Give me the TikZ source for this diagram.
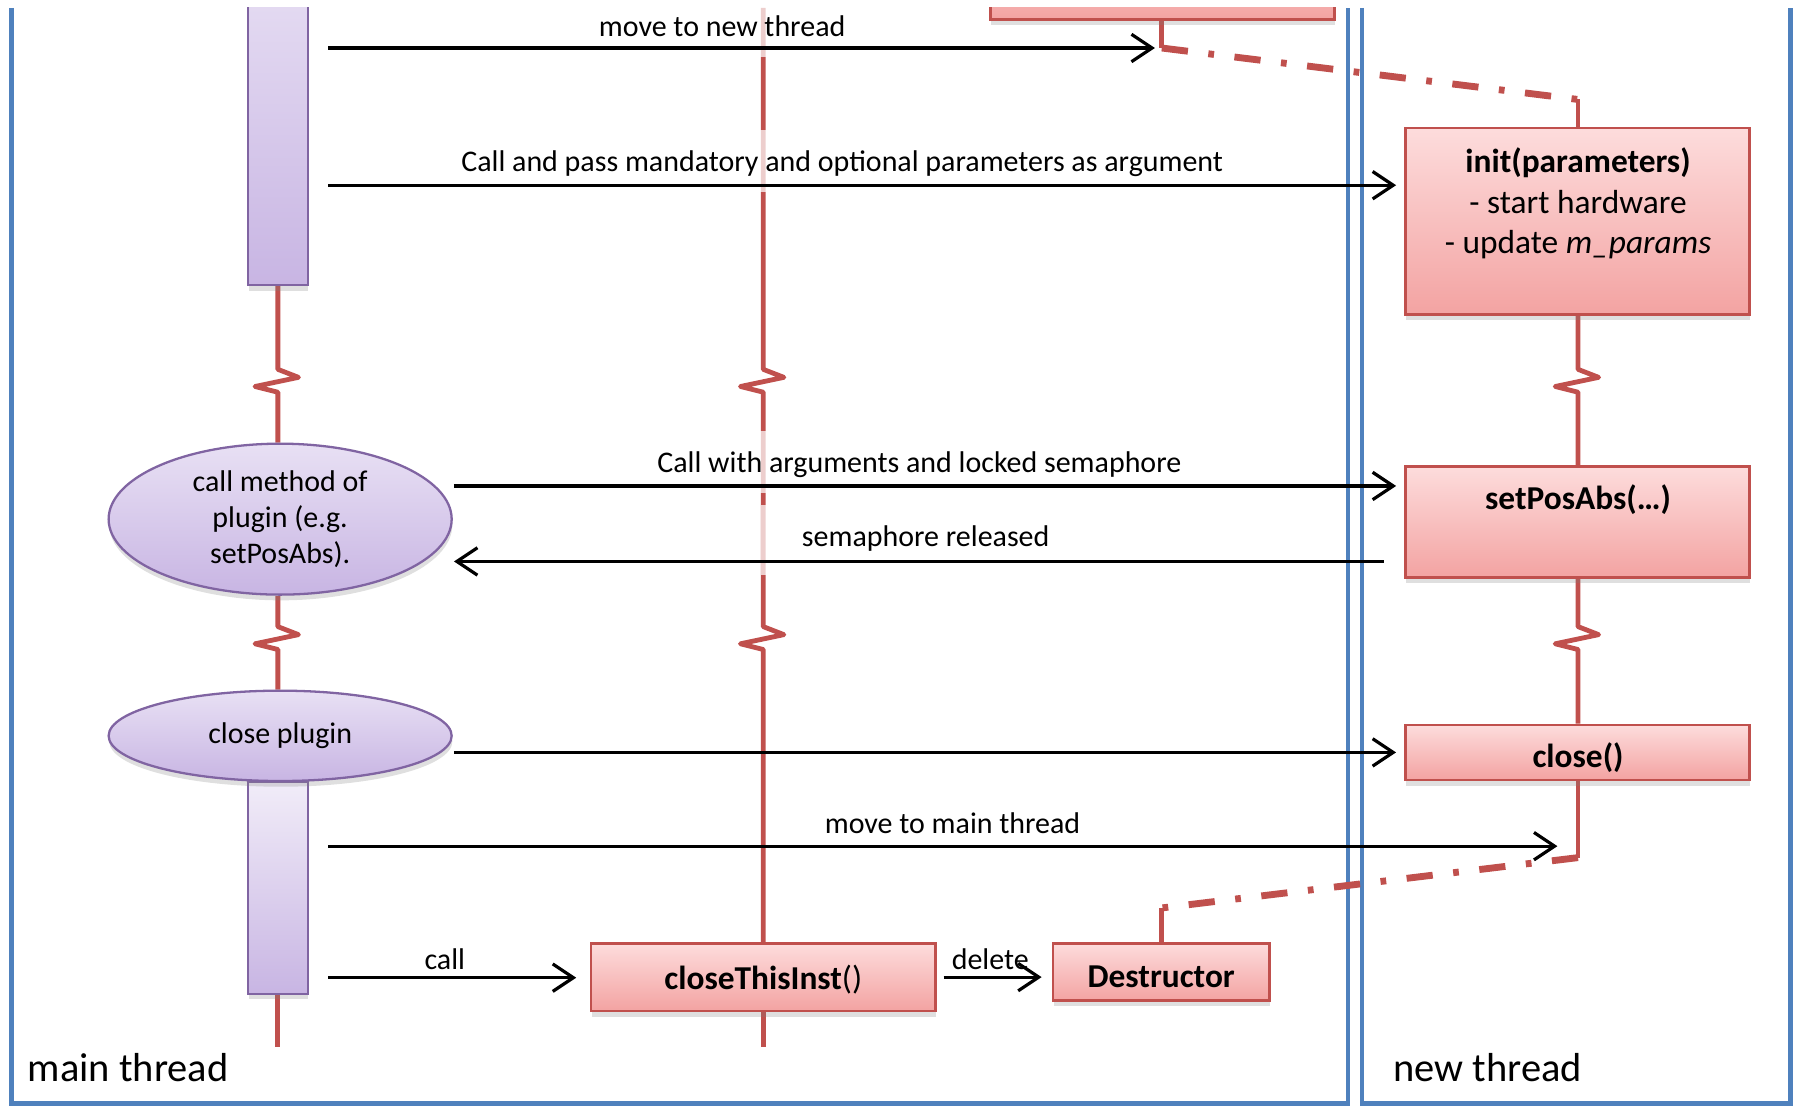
\documentclass[tikz,border=0pt]{standalone}
\usepackage{fontspec}
\setmainfont{Carlito}
\usetikzlibrary{arrows.meta,shadows,shapes.geometric}
\pgfdeclarelayer{back}
\pgfsetlayers{back,main}

\definecolor{lifered}{HTML}{C0504D}
\definecolor{laneblue}{HTML}{4F81BD}
\definecolor{pinktop}{HTML}{FDDCDC}
\definecolor{pinkbot}{HTML}{F3A3A2}
\definecolor{violettop}{HTML}{E8E0F4}
\definecolor{violetbot}{HTML}{C8B5E3}
\definecolor{violetedge}{HTML}{8064A2}

\newcommand\lblsize{\fontsize{13.1pt}{15.75pt}\selectfont}
\newcommand\boxsize{\fontsize{14.6pt}{17.75pt}\selectfont}
\newcommand\lanesize{\fontsize{17.7pt}{21pt}\selectfont}

\tikzset{
  lane/.style={draw=laneblue, line width=2pt},
  life/.style={draw=lifered, line width=2.1pt, line join=round},
  handover/.style={draw=lifered, line width=3pt,
    dash pattern=on 11.5pt off 9pt on 2.5pt off 9pt},
  msg/.style={draw=black, line width=1.4pt, -{Straight Barb[length=9pt,width=12pt]}},
  softshadow/.style={drop shadow={opacity=0.25, shadow xshift=0.3pt, shadow yshift=-2.5pt}},
  redbox/.style={rectangle, draw=lifered, line width=1.1pt, top color=pinktop,
    bottom color=pinkbot, softshadow, inner sep=0pt, minimum width=150.5pt},
  boxtxt/.style={font=\boxsize, align=center, inner sep=0pt},
  violetbar/.style={rectangle, draw=violetedge, line width=0.9pt, top color=violettop,
    bottom color=violetbot, softshadow, minimum width=26pt, inner sep=0pt},
  violetoval/.style={ellipse, draw=violetedge, line width=1pt, top color=violettop,
    bottom color=violetbot, softshadow, minimum width=150pt, inner sep=0pt,
    align=center, font=\lblsize},
  lbl/.style={fill=white, fill opacity=0.72, text opacity=1, inner xsep=18pt,
    inner ysep=0pt, text height=18pt, text depth=9pt, font=\lblsize, anchor=base},
  lanelbl/.style={font=\lanesize, inner sep=0pt, anchor=base west},
}

\begin{document}
\begin{tikzpicture}[x=0.5pt, y=-0.5pt]
\useasboundingbox (0,0) rectangle (1568,967);
\begin{scope}
\clip (0,7) rectangle (1568,967);

% ---------------- objects ----------------
\node[violetbar, anchor=south, minimum height=145pt] (bar1) at (243,250) {};
\node[violetoval, minimum height=66pt] (callm) at (245,454)
  {call method of\\plugin (e.g.\\setPosAbs).};
\node[violetbar, anchor=north, minimum height=92.5pt, top color=violettop!60!white] (bar2) at (243,683) {};
\node[violetoval, minimum height=39.5pt] (closep) at (245,643.5) {close plugin};

\node[redbox, anchor=south, minimum height=39pt] (prev) at (1016.5,18) {};
\node[redbox, minimum height=81.5pt] (init) at (1379.5,193.5) {};
\node[boxtxt] (inittxt) at (1380,178)
  {\textbf{init(parameters)}\\- start hardware\\- update \textit{m\_params}};
\node[redbox, minimum height=48.5pt] (setpos) at (1379.5,456.5) {};
\node[boxtxt, anchor=base] (setpostxt) at (1380,446) {\textbf{setPosAbs(…)}};
\node[redbox, minimum height=24pt] (closeb) at (1379.5,658) {};
\node[boxtxt, anchor=base] (closetxt) at (1380,671) {\textbf{close()}};
\node[redbox, minimum height=29.5pt] (cti) at (667.5,854.5) {};
\node[boxtxt, anchor=base] (ctitxt) at (667.5,865) {\textbf{closeThisInst}()};
\node[redbox, minimum width=94.5pt, minimum height=25pt] (dtor) at (1015.5,850) {};
\node[boxtxt, anchor=base] (dtortxt) at (1015.5,864) {\textbf{Destructor}};

% ---------------- free ends of lifelines and messages ----------------
\coordinate (midtop) at (667.5,7);
\coordinate (midend) at (667.5,916);
\coordinate (mainend) at (243,916);
\coordinate (hand1) at (1016,42);
\coordinate (hand2) at (1380,87);
\coordinate (retcorner) at (1380,750);
\coordinate (ret2) at (1016,794);
\coordinate (m1s) at (287,42);
\coordinate (m2s) at (287,162);
\coordinate (m3s) at (397,425);
\coordinate (m4s) at (1210,491);
\coordinate (m4e) at (397,491);
\coordinate (m5s) at (397,658);
\coordinate (m6s) at (287,740);
\coordinate (m7s) at (287,855);

% ---------------- lanes and lifelines ----------------
\begin{pgfonlayer}{back}
  \draw[lane] (10,7) -- (10,965) -- (1179,965) -- (1179,7);
  \draw[lane] (1191,7) -- (1191,965) -- (1566,965) -- (1566,7);

  % main thread
  \draw[life] (bar1.south) -- (243,323) -- ++(18,7) -- ++(-38,8) -- ++(20,5)
    -- (bar1.south |- callm.north);
  \draw[life] (bar1.south |- callm.south) -- (243,548) -- ++(18,7) -- ++(-38,8) -- ++(20,5)
    -- (bar1.south |- closep.north);
  \draw[life] (bar2.south) -- (mainend);

  % plugin object
  \draw[life] (midtop) -- (667.5,323) -- ++(18,7) -- ++(-38,8) -- ++(20,5)
    -- (667.5,548) -- ++(18,7) -- ++(-38,8) -- ++(20,5) -- (cti.north);
  \draw[life] (cti.south) -- (midend);

  % new thread
  \draw[life] (prev.south -| hand1) -- (hand1);
  \draw[handover] (hand1) -- (hand2);
  \draw[life] (hand2) -- (init.north -| hand2);
  \draw[life] (init.south -| hand2) -- (1380,323) -- ++(18,7) -- ++(-38,8) -- ++(20,5)
    -- (setpos.north -| hand2);
  \draw[life] (setpos.south -| hand2) -- (1380,548) -- ++(18,7) -- ++(-38,8) -- ++(20,5)
    -- (closeb.north -| hand2);
  \draw[life] (closeb.south -| hand2) -- (retcorner);
  \draw[handover] (retcorner) -- (ret2);
  \draw[life] (ret2) -- (dtor.north -| ret2);
\end{pgfonlayer}

% ---------------- message labels ----------------
\node[lbl] (l1) at (631.5,31.5) {move to new thread};
\node[lbl] (l2) at (736.5,150) {Call and pass mandatory and optional parameters as argument};
\node[lbl] (l3) at (804,413) {Call with arguments and locked semaphore};
\node[lbl, text depth=12.5pt] (l4) at (809.5,477.5) {semaphore released};
\node[lbl] (l6) at (833,728.5) {move to main thread};
\node[lbl, fill=none] (l7) at (389,848) {call};
\node[lbl, fill=none] (l8) at (866,848) {delete};

% ---------------- messages ----------------
\draw[msg, shorten >=3pt] (m1s) -- (hand1);
\draw[msg, shorten >=3.5pt] (m2s) -- (m2s -| init.west);
\draw[msg, shorten >=3.5pt] (m3s) -- (m3s -| setpos.west);
\draw[msg] (m4s) -- (m4e);
\draw[msg, shorten >=3.5pt] (m5s) -- (m5s -| closeb.west);
\draw[msg, shorten >=9pt] (m6s) -- (m6s -| retcorner);
\draw[msg, shorten >=6pt] (m7s) -- (m7s -| cti.west);
\draw[msg, shorten <=3pt, shorten >=4.5pt] (cti.east) -- (cti.east -| dtor.west);

% ---------------- lane titles ----------------
\node[lanelbl] (lanemain) at (24,946) {main thread};
\node[lanelbl] (lanenew) at (1218,946) {new thread};
\end{scope}
\end{tikzpicture}
\end{document}
